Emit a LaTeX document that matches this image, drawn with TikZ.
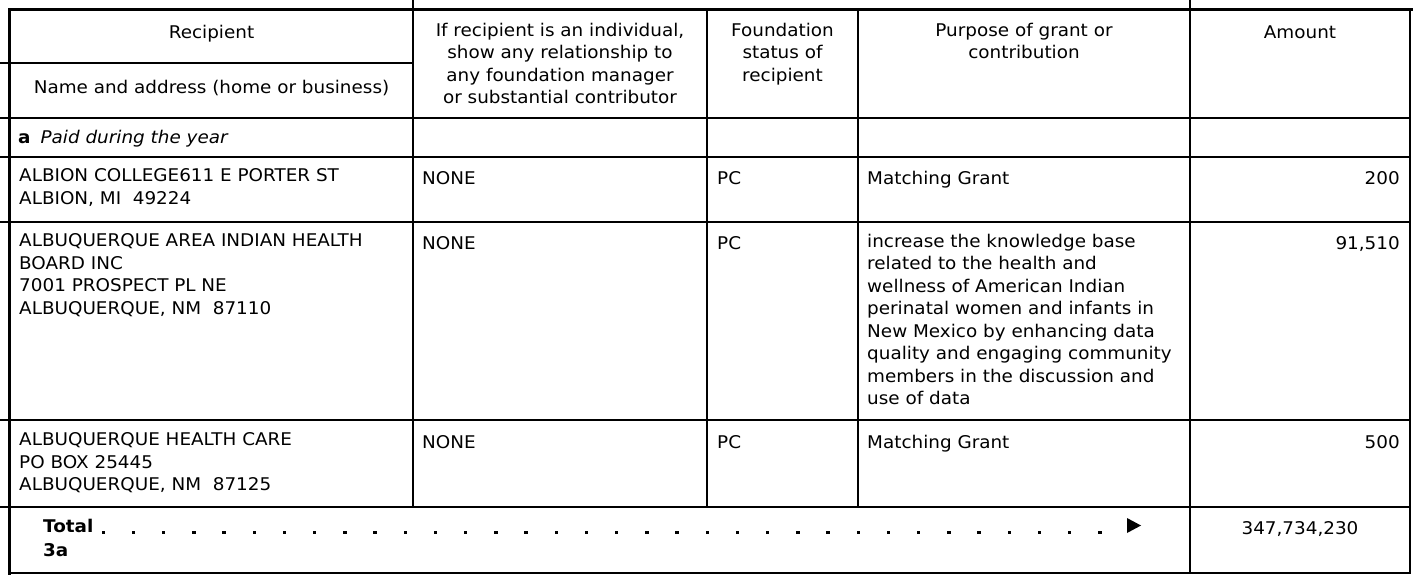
\documentclass[tikz,border=0pt]{standalone}
\usepackage{fontspec}
\setmainfont{DejaVu Sans}[FakeStretch=1.05]
\newcommand{\cellfont}{\fontsize{17.5}{22.5}\selectfont}
\tikzset{
  rule/.style={line width=1.6pt},
  heavy/.style={line width=3pt},
  cell/.style={anchor=north west, inner sep=0pt, align=left, font=\cellfont, execute at begin node=\strut},
  head/.style={cell, anchor=north, align=center},
  amt/.style={cell, anchor=north east, align=right},
}
\begin{document}
\begin{tikzpicture}[x=1pt,y=-1pt]
\useasboundingbox (0,0) rectangle (1413,575);
\draw[heavy] (8,10) -- (1413,10);
\draw[heavy] (9.5,8.5) -- (9.5,574.5);
\draw[line width=2pt] (8,573) -- (1411,573);
\draw[rule] (1410,10) -- (1410,573);
\draw[rule] (0,63) -- (413,63);
\foreach \y in {118,157,222,420,507} \draw[rule] (0,\y) -- (1410,\y);
\foreach \x in {707,858} \draw[rule] (\x,10) -- (\x,507);
\draw[rule] (413,0) -- (413,507);
\draw[rule] (1190,0) -- (1190,573);
\node[head] (hRecip) at (211.5,22.75) {Recipient};
\node[head] (hName) at (211.5,78) {Name and address (home or business)};
\node[head] (hRel) at (560,22.75) {If recipient is an individual,\\show any relationship to\\any foundation manager\\or substantial contributor};
\node[head] (hStat) at (782.5,22.75) {Foundation\\status of\\recipient};
\node[head] (hPurp) at (1024,22.75) {Purpose of grant or\\contribution};
\node[head] (hAmt) at (1300,22.75) {Amount};
\node[cell] (paid) at (18,127.25) {\textbf{a}\hspace{10pt}\textit{Paid during the year}};
\node[cell] (albName) at (19,168.75) {ALBION COLLEGE611 E PORTER ST\\ALBION, MI\ \ 49224};
\node[cell] (albRel) at (422,168.75) {NONE};
\node[cell] (albStat) at (717,168.75) {PC};
\node[cell] (albPurp) at (867,168.75) {Matching Grant};
\node[amt] (albAmt) at (1400,168.75) {200};
\node[cell] (aaiName) at (19,233.75) {ALBUQUERQUE AREA INDIAN HEALTH\\BOARD INC\\7001 PROSPECT PL NE\\ALBUQUERQUE, NM\ \ 87110};
\node[cell] (aaiRel) at (422,233.75) {NONE};
\node[cell] (aaiStat) at (717,233.75) {PC};
\node[cell] (aaiPurp) at (867,233.75) {increase the knowledge base\\related to the health and\\wellness of American Indian\\perinatal women and infants in\\New Mexico by enhancing data\\quality and engaging community\\members in the discussion and\\use of data};
\node[amt] (aaiAmt) at (1400,233.75) {91,510};
\node[cell] (ahcName) at (19,432.75) {ALBUQUERQUE HEALTH CARE\\PO BOX 25445\\ALBUQUERQUE, NM\ \ 87125};
\node[cell] (ahcRel) at (422,432.75) {NONE};
\node[cell] (ahcStat) at (717,432.75) {PC};
\node[cell] (ahcPurp) at (867,432.75) {Matching Grant};
\node[amt] (ahcAmt) at (1400,432.75) {500};
\node[cell, font=\cellfont\bfseries] (total) at (43,518.75) {Total\\[1.5pt]3a};
\foreach \i in {0,...,33} \fill (101.5+\i*30.2,530.5) rectangle ++(3.5,3.5);
\fill (1127,518) -- (1127,533) -- (1141,525.5) -- cycle;
\node[head] (totAmt) at (1300,518.75) {347,734,230};
\end{tikzpicture}
\end{document}
